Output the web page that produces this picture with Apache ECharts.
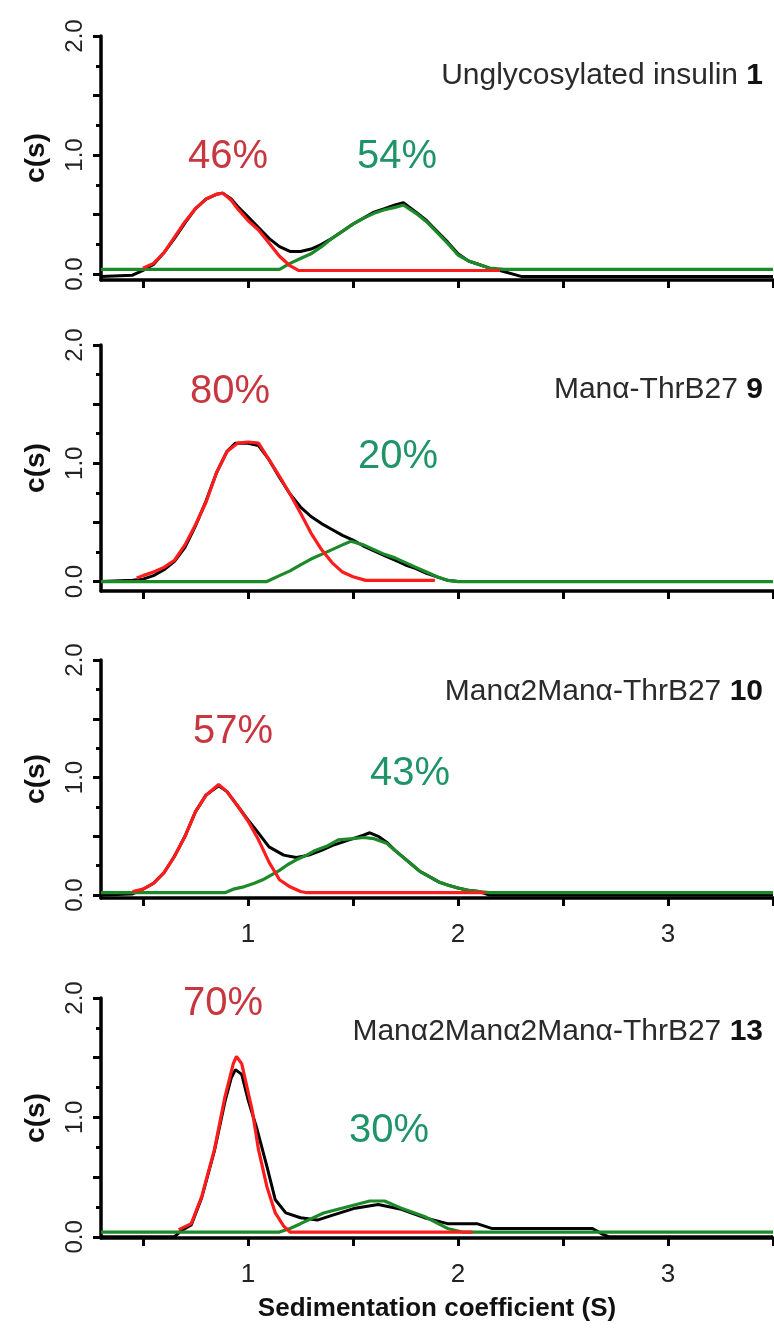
<!DOCTYPE html>
<html>
<head>
<meta charset="utf-8">
<script src="https://cdn.jsdelivr.net/npm/echarts@6/dist/echarts.min.js"></script>
<style>
  html, body { margin: 0; padding: 0; background: #fff; }
  #chart { width: 774px; height: 1332px; }
</style>
</head>
<body>
<div id="chart"></div>
<script>
// c(s) curves, [S, c(s)] pairs
// panel 1 - unglycosylated insulin 1
const black1 = [[0.30,-0.02],[0.45,-0.01],[0.50,0.03],[0.55,0.08],[0.60,0.18],[0.65,0.30],[0.70,0.43],[0.75,0.55],[0.80,0.63],[0.85,0.67],[0.88,0.68],[0.92,0.63],[0.95,0.57],[1.00,0.48],[1.05,0.39],[1.10,0.30],[1.15,0.23],[1.20,0.19],[1.25,0.19],[1.30,0.21],[1.35,0.25],[1.40,0.30],[1.45,0.36],[1.50,0.42],[1.55,0.47],[1.60,0.52],[1.65,0.55],[1.70,0.58],[1.74,0.60],[1.80,0.52],[1.85,0.45],[1.90,0.36],[1.95,0.27],[2.00,0.17],[2.05,0.11],[2.10,0.08],[2.15,0.05],[2.20,0.03],[2.30,-0.02],[3.50,-0.02]]
const red1 = [[0.50,0.05],[0.55,0.09],[0.60,0.18],[0.65,0.31],[0.70,0.44],[0.75,0.55],[0.80,0.63],[0.85,0.67],[0.88,0.68],[0.92,0.62],[0.95,0.55],[1.00,0.45],[1.05,0.37],[1.10,0.26],[1.15,0.15],[1.20,0.07],[1.24,0.03],[2.20,0.03]]
const green1 = [[0.30,0.04],[1.15,0.04],[1.20,0.09],[1.25,0.13],[1.30,0.17],[1.35,0.23],[1.40,0.30],[1.45,0.36],[1.50,0.42],[1.55,0.47],[1.60,0.51],[1.65,0.54],[1.70,0.56],[1.74,0.58],[1.80,0.51],[1.85,0.44],[1.90,0.35],[1.95,0.26],[2.00,0.16],[2.05,0.11],[2.10,0.08],[2.15,0.05],[2.22,0.04],[3.50,0.04]]

// panel 2 - Mana-ThrB27 9
const black2 = [[0.30,0.00],[0.45,0.01],[0.50,0.02],[0.55,0.05],[0.60,0.10],[0.65,0.17],[0.70,0.29],[0.75,0.47],[0.80,0.68],[0.85,0.92],[0.90,1.10],[0.94,1.17],[1.00,1.17],[1.05,1.15],[1.10,1.03],[1.15,0.88],[1.20,0.74],[1.25,0.63],[1.30,0.55],[1.35,0.49],[1.40,0.44],[1.45,0.39],[1.50,0.35],[1.55,0.30],[1.60,0.26],[1.65,0.22],[1.70,0.18],[1.75,0.14],[1.80,0.11],[1.85,0.07],[1.90,0.04],[1.95,0.01],[2.00,0.00],[3.50,0.00]]
const red2 = [[0.47,0.03],[0.50,0.05],[0.55,0.08],[0.60,0.12],[0.65,0.18],[0.70,0.31],[0.75,0.48],[0.80,0.67],[0.85,0.92],[0.90,1.10],[0.95,1.17],[1.00,1.18],[1.05,1.17],[1.10,1.03],[1.15,0.89],[1.20,0.74],[1.25,0.58],[1.30,0.41],[1.35,0.27],[1.40,0.16],[1.45,0.08],[1.50,0.04],[1.56,0.01],[1.89,0.01]]
const green2 = [[0.30,0.00],[1.09,0.00],[1.15,0.05],[1.20,0.09],[1.25,0.14],[1.30,0.19],[1.35,0.23],[1.40,0.27],[1.45,0.31],[1.49,0.34],[1.55,0.31],[1.60,0.27],[1.65,0.23],[1.70,0.20],[1.75,0.16],[1.80,0.12],[1.85,0.08],[1.90,0.04],[1.95,0.01],[2.00,0.00],[3.50,0.00]]

// panel 3 - Mana2Mana-ThrB27 10
const black3 = [[0.30,0.00],[0.45,0.01],[0.50,0.05],[0.55,0.10],[0.60,0.19],[0.65,0.33],[0.70,0.50],[0.75,0.71],[0.80,0.85],[0.86,0.93],[0.90,0.88],[0.95,0.76],[1.00,0.64],[1.04,0.55],[1.10,0.41],[1.17,0.34],[1.23,0.32],[1.29,0.34],[1.35,0.38],[1.40,0.42],[1.45,0.45],[1.50,0.48],[1.55,0.51],[1.58,0.53],[1.62,0.50],[1.66,0.45],[1.70,0.38],[1.74,0.32],[1.78,0.26],[1.82,0.20],[1.87,0.15],[1.91,0.11],[1.96,0.08],[2.00,0.06],[2.05,0.04],[2.10,0.03],[2.15,0.00],[3.50,0.00]]
const red3 = [[0.45,0.03],[0.50,0.05],[0.55,0.10],[0.60,0.19],[0.65,0.33],[0.70,0.50],[0.75,0.71],[0.80,0.85],[0.86,0.94],[0.90,0.88],[0.95,0.76],[1.00,0.63],[1.05,0.47],[1.10,0.28],[1.15,0.13],[1.20,0.07],[1.25,0.03],[1.28,0.02],[2.13,0.02]]
const green3 = [[0.30,0.02],[0.89,0.02],[0.93,0.05],[0.98,0.07],[1.03,0.10],[1.07,0.13],[1.11,0.17],[1.15,0.21],[1.19,0.26],[1.23,0.30],[1.28,0.34],[1.32,0.38],[1.38,0.42],[1.43,0.47],[1.50,0.48],[1.55,0.49],[1.60,0.48],[1.66,0.44],[1.70,0.38],[1.74,0.32],[1.78,0.26],[1.82,0.20],[1.87,0.15],[1.91,0.11],[1.96,0.08],[2.00,0.06],[2.05,0.04],[2.10,0.03],[2.15,0.02],[3.50,0.02]]

// panel 4 - Mana2Mana2Mana-ThrB27 13
const black4 = [[0.30,0.00],[0.65,0.00],[0.68,0.05],[0.73,0.10],[0.78,0.33],[0.84,0.72],[0.89,1.13],[0.92,1.33],[0.94,1.40],[0.97,1.36],[1.00,1.15],[1.04,0.92],[1.09,0.59],[1.13,0.31],[1.18,0.20],[1.25,0.16],[1.33,0.14],[1.40,0.18],[1.51,0.24],[1.62,0.27],[1.73,0.23],[1.84,0.16],[1.95,0.11],[2.09,0.11],[2.16,0.07],[2.64,0.07],[2.69,0.02],[2.72,0.00],[3.50,0.00]]
const red4 = [[0.67,0.06],[0.73,0.11],[0.78,0.34],[0.84,0.73],[0.89,1.17],[0.93,1.45],[0.945,1.51],[0.97,1.45],[1.02,1.06],[1.05,0.73],[1.09,0.42],[1.13,0.20],[1.17,0.09],[1.20,0.04],[2.07,0.04]]
const green4 = [[0.30,0.04],[1.15,0.04],[1.20,0.07],[1.25,0.11],[1.36,0.20],[1.47,0.25],[1.58,0.30],[1.65,0.30],[1.73,0.24],[1.84,0.17],[1.95,0.07],[2.02,0.04],[3.50,0.04]]

const blackCurves = [black1, black2, black3, black4]
const redCurves = [red1, red2, red3, red4]
const greenCurves = [green1, green2, green3, green4]

const pctRed = ['46%', '80%', '57%', '70%']
const pctGreen = ['54%', '20%', '43%', '30%']
const sampleNames = ['Unglycosylated insulin ', 'Manα-ThrB27 ', 'Manα2Manα-ThrB27 ', 'Manα2Manα2Manα-ThrB27 ']
const sampleIds = ['1', '9', '10', '13']

const xTicks = [0.5, 1, 1.5, 2, 2.5, 3, 3.5]
const xLabels = [1, 2, 3]
const yMajor = [0, 0.5, 1, 1.5, 2]
const yMinor = [0.25, 0.75, 1.25, 1.75]
const yLabels = [0, 1, 2]

// layout (pixels)
const gridTop = [36, 345, 660, 998]
const gridHeight = [244, 246, 238, 240]
const yMin = [-0.05, -0.08, -0.025, -0.01]
const redPos = [[228, 157], [230, 392], [233, 732], [223, 1004]]
const greenPos = [[397, 157], [398, 457], [410, 774], [389, 1131]]
const titleY = [76, 390, 692, 1032]

const FONT = 'Liberation Sans, Arial, Helvetica, sans-serif'
const chart = echarts.init(document.getElementById('chart'))

let grid = []
let xAxis = []
let yAxis = []
let series = []
let graphic = []

for (let i = 0; i < 4; i++) {
  grid.push({ left: 101, width: 672, top: gridTop[i], height: gridHeight[i] })
  xAxis.push({
    gridIndex: i,
    type: 'value',
    min: 0.3,
    max: 3.5,
    axisLine: { show: true, onZero: false, lineStyle: { color: '#000', width: 3.5 } },
    axisTick: { show: true, customValues: xTicks, length: 8, lineStyle: { color: '#000', width: 3 } },
    axisLabel: { show: i >= 2, customValues: xLabels, margin: 24, fontSize: 26, color: '#222', fontFamily: FONT },
    splitLine: { show: false },
    name: i === 3 ? 'Sedimentation coefficient (S)' : '',
    nameLocation: 'middle',
    nameGap: 58,
    nameTextStyle: { fontWeight: 'bold', fontSize: 26, color: '#111', fontFamily: FONT }
  })
  // major ticks, labels, name
  yAxis.push({
    gridIndex: i,
    type: 'value',
    position: 'left',
    min: yMin[i],
    max: 2,
    axisLine: { show: true, onZero: false, lineStyle: { color: '#000', width: 3.5 } },
    axisTick: { show: true, customValues: yMajor, length: 8, lineStyle: { color: '#000', width: 3 } },
    axisLabel: {
      customValues: yLabels,
      rotate: 90,
      margin: 14,
      fontSize: 24,
      color: '#222',
      fontFamily: FONT,
      formatter: v => Number(v).toFixed(1)
    },
    splitLine: { show: false },
    name: 'c(s)',
    nameLocation: 'middle',
    nameRotate: 90,
    nameGap: 51,
    nameTextStyle: { fontWeight: 'bold', fontSize: 28, color: '#111', fontFamily: FONT }
  })
  // minor ticks
  yAxis.push({
    gridIndex: i,
    type: 'value',
    position: 'left',
    offset: 0,
    min: yMin[i],
    max: 2,
    axisLine: { show: false },
    axisTick: { show: true, customValues: yMinor, length: 5, lineStyle: { color: '#000', width: 3 } },
    axisLabel: { show: false },
    splitLine: { show: false }
  })

  const curves = [[blackCurves[i], '#000000', 3], [greenCurves[i], '#1d8a2a', 3.2], [redCurves[i], '#ff1c1c', 3.2]]
  curves.forEach(c => {
    series.push({
      type: 'line',
      xAxisIndex: i,
      yAxisIndex: 2 * i,
      data: c[0],
      showSymbol: false,
      silent: true,
      lineStyle: { color: c[1], width: c[2] }
    })
  })

  graphic.push({
    type: 'text',
    x: redPos[i][0],
    y: redPos[i][1],
    style: { text: pctRed[i], fill: '#c8373f', fontSize: 40, fontFamily: FONT, align: 'center', verticalAlign: 'middle' }
  })
  graphic.push({
    type: 'text',
    x: greenPos[i][0],
    y: greenPos[i][1],
    style: { text: pctGreen[i], fill: '#1f9468', fontSize: 40, fontFamily: FONT, align: 'center', verticalAlign: 'middle' }
  })
  graphic.push({
    type: 'text',
    x: 763,
    y: titleY[i],
    style: {
      text: '{n|' + sampleNames[i] + '}{b|' + sampleIds[i] + '}',
      align: 'right',
      verticalAlign: 'middle',
      rich: {
        n: { fill: '#2a2a2a', fontSize: 30, fontFamily: FONT },
        b: { fill: '#111', fontSize: 30, fontWeight: 'bold', fontFamily: FONT }
      }
    }
  })
}

chart.setOption({
  animation: false,
  backgroundColor: '#fff',
  grid: grid,
  xAxis: xAxis,
  yAxis: yAxis,
  series: series,
  graphic: graphic
})
</script>
</body>
</html>
